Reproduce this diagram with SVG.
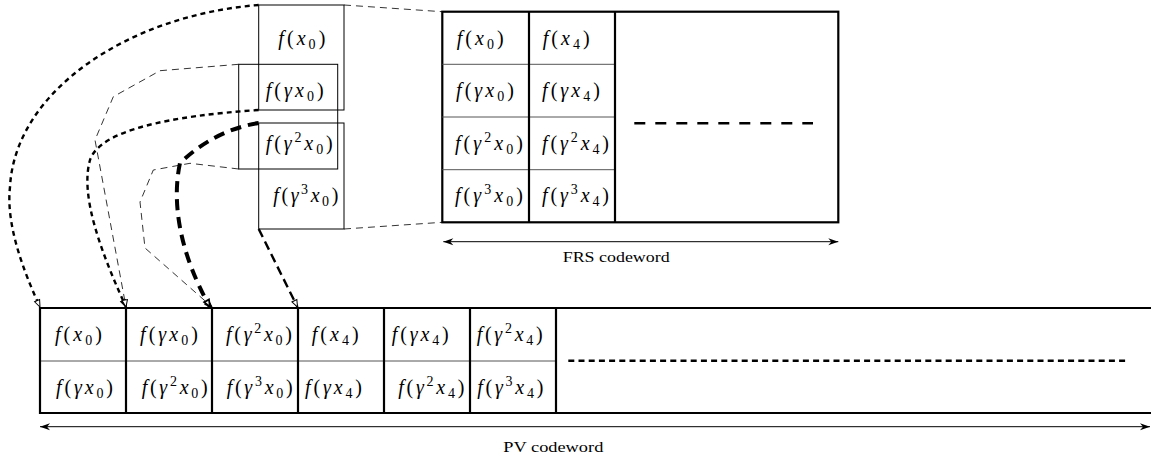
<svg xmlns="http://www.w3.org/2000/svg" width="1151" height="456" viewBox="0 0 1151 456">
<style>
.m{font-family:"Liberation Serif","Times New Roman",serif;font-size:20px;fill:#000}
.i{font-style:italic}
.s{font-size:14px}
.lbl{font-family:"Liberation Serif","Times New Roman",serif;font-size:15px;fill:#000}
.thin{fill:none;stroke:#000;stroke-width:1}
.thick{fill:none;stroke:#000;stroke-width:2.2}
.inner{fill:none;stroke:#555;stroke-width:1}
.c-dot{fill:none;stroke:#000;stroke-width:2.4;stroke-dasharray:5 4}
.c-thin{fill:none;stroke:#000;stroke-width:0.8;stroke-dasharray:7 5}
.c-heavy{fill:none;stroke:#000;stroke-width:4;stroke-dasharray:11 7}
.c-long{fill:none;stroke:#000;stroke-width:2.4;stroke-dasharray:9 5}
</style>
<defs>
<marker id="hollow" markerUnits="userSpaceOnUse" markerWidth="10" markerHeight="8" refX="7" refY="2.75" orient="auto" overflow="visible">
<path d="M0,0 L7,2.75 L0,5.5 z" fill="#fff" stroke="#000" stroke-width="1"/>
</marker>
<marker id="hollowHeavy" markerUnits="userSpaceOnUse" markerWidth="10" markerHeight="8" refX="7" refY="2.75" orient="auto" overflow="visible">
<path d="M0,0 L7,2.75 L0,5.5 z" fill="#fff" stroke="#000" stroke-width="1.8"/>
</marker>
<marker id="solid" markerUnits="userSpaceOnUse" markerWidth="10" markerHeight="8" refX="7" refY="2.75" orient="auto" overflow="visible">
<path d="M0,0 L7,2.75 L0,5.5 z" fill="#000" stroke="#000" stroke-width="1"/>
</marker>
<marker id="stealth" markerUnits="userSpaceOnUse" markerWidth="12" markerHeight="8" refX="10" refY="3.5" orient="auto-start-reverse" overflow="visible">
<path d="M0,0 L10,3.5 L0,7 L3,3.5 z" fill="#000"/>
</marker>
</defs>

<!-- stacked source boxes -->
<g id="stack-a">
<rect class="thin" x="258.7" y="5" width="85.3" height="105"/>
<text class="m" x="278.3" y="44.7" textLength="47" lengthAdjust="spacing"><tspan class="i">f</tspan>(<tspan class="i">x</tspan><tspan class="s" dy="4">0</tspan><tspan dy="-4">)</tspan></text>
</g>
<g id="stack-b">
<rect class="thin" x="238.7" y="64.3" width="99" height="104.7"/>
<text class="m" x="265.7" y="96.5" textLength="58" lengthAdjust="spacing"><tspan class="i">f</tspan>(<tspan class="i">γx</tspan><tspan class="s" dy="4">0</tspan><tspan dy="-4">)</tspan></text>
</g>
<g id="stack-c">
<rect class="thin" x="258.7" y="123" width="85.3" height="106"/>
<text class="m" x="265.7" y="149.7" textLength="67" lengthAdjust="spacing"><tspan class="i">f</tspan>(<tspan class="i">γ</tspan><tspan class="s" dy="-8">2</tspan><tspan class="i" dy="8">x</tspan><tspan class="s" dy="4">0</tspan><tspan dy="-4">)</tspan></text>
<text class="m" x="273.3" y="201.5" textLength="65" lengthAdjust="spacing"><tspan class="i">f</tspan>(<tspan class="i">γ</tspan><tspan class="s" dy="-8">3</tspan><tspan class="i" dy="8">x</tspan><tspan class="s" dy="4">0</tspan><tspan dy="-4">)</tspan></text>
</g>

<!-- FRS codeword -->
<g id="frs">
<rect class="thick" x="442.3" y="11.7" width="396" height="210.6"/>
<line class="inner" x1="442.3" y1="64.3" x2="615" y2="64.3"/>
<line class="inner" x1="442.3" y1="117" x2="615" y2="117"/>
<line class="inner" x1="442.3" y1="169.7" x2="615" y2="169.7"/>
<line class="thick" x1="529" y1="11.7" x2="529" y2="222.3"/>
<line class="thick" x1="615" y1="11.7" x2="615" y2="222.3"/>
<line x1="634.3" y1="123.3" x2="813" y2="123.3" stroke="#000" stroke-width="2.6" stroke-dasharray="11 10"/>
<text class="m" x="456.7" y="44.7" textLength="47" lengthAdjust="spacing"><tspan class="i">f</tspan>(<tspan class="i">x</tspan><tspan class="s" dy="4">0</tspan><tspan dy="-4">)</tspan></text>
<text class="m" x="456" y="96.5" textLength="58" lengthAdjust="spacing"><tspan class="i">f</tspan>(<tspan class="i">γx</tspan><tspan class="s" dy="4">0</tspan><tspan dy="-4">)</tspan></text>
<text class="m" x="455" y="149.7" textLength="68" lengthAdjust="spacing"><tspan class="i">f</tspan>(<tspan class="i">γ</tspan><tspan class="s" dy="-8">2</tspan><tspan class="i" dy="8">x</tspan><tspan class="s" dy="4">0</tspan><tspan dy="-4">)</tspan></text>
<text class="m" x="455" y="201.5" textLength="68" lengthAdjust="spacing"><tspan class="i">f</tspan>(<tspan class="i">γ</tspan><tspan class="s" dy="-8">3</tspan><tspan class="i" dy="8">x</tspan><tspan class="s" dy="4">0</tspan><tspan dy="-4">)</tspan></text>
<text class="m" x="542.7" y="44.7" textLength="47" lengthAdjust="spacing"><tspan class="i">f</tspan>(<tspan class="i">x</tspan><tspan class="s" dy="4">4</tspan><tspan dy="-4">)</tspan></text>
<text class="m" x="542" y="96.5" textLength="58" lengthAdjust="spacing"><tspan class="i">f</tspan>(<tspan class="i">γx</tspan><tspan class="s" dy="4">4</tspan><tspan dy="-4">)</tspan></text>
<text class="m" x="542" y="149.7" textLength="67" lengthAdjust="spacing"><tspan class="i">f</tspan>(<tspan class="i">γ</tspan><tspan class="s" dy="-8">2</tspan><tspan class="i" dy="8">x</tspan><tspan class="s" dy="4">4</tspan><tspan dy="-4">)</tspan></text>
<text class="m" x="542" y="201.5" textLength="67" lengthAdjust="spacing"><tspan class="i">f</tspan>(<tspan class="i">γ</tspan><tspan class="s" dy="-8">3</tspan><tspan class="i" dy="8">x</tspan><tspan class="s" dy="4">4</tspan><tspan dy="-4">)</tspan></text>
</g>
<g id="frs-label">
<line x1="443.3" y1="241.7" x2="838.3" y2="241.7" stroke="#000" stroke-width="1" marker-start="url(#stealth)" marker-end="url(#stealth)"/>
<text class="lbl" x="562.7" y="261.7" textLength="107" lengthAdjust="spacingAndGlyphs">FRS codeword</text>
</g>

<!-- PV codeword -->
<g id="pv">
<line class="thick" x1="40" y1="308" x2="1151" y2="308"/>
<line class="thick" x1="40" y1="413" x2="1151" y2="413"/>
<line class="inner" x1="40" y1="361" x2="556" y2="361"/>
<line class="thick" x1="40" y1="307" x2="40" y2="414"/>
<line class="thick" x1="126" y1="308" x2="126" y2="413"/>
<line class="thick" x1="212" y1="308" x2="212" y2="413"/>
<line class="thick" x1="298" y1="308" x2="298" y2="413"/>
<line class="thick" x1="384" y1="308" x2="384" y2="413"/>
<line class="thick" x1="470" y1="308" x2="470" y2="413"/>
<line class="thick" x1="556" y1="308" x2="556" y2="413"/>
<line x1="568.3" y1="360.7" x2="1128" y2="360.7" stroke="#000" stroke-width="2.5" stroke-dasharray="6 4.2"/>
<text class="m" x="55" y="341.2" textLength="47" lengthAdjust="spacing"><tspan class="i">f</tspan>(<tspan class="i">x</tspan><tspan class="s" dy="4">0</tspan><tspan dy="-4">)</tspan></text>
<text class="m" x="140" y="341.2" textLength="58" lengthAdjust="spacing"><tspan class="i">f</tspan>(<tspan class="i">γx</tspan><tspan class="s" dy="4">0</tspan><tspan dy="-4">)</tspan></text>
<text class="m" x="226" y="341.2" textLength="66" lengthAdjust="spacing"><tspan class="i">f</tspan>(<tspan class="i">γ</tspan><tspan class="s" dy="-8">2</tspan><tspan class="i" dy="8">x</tspan><tspan class="s" dy="4">0</tspan><tspan dy="-4">)</tspan></text>
<text class="m" x="311.7" y="341.2" textLength="47" lengthAdjust="spacing"><tspan class="i">f</tspan>(<tspan class="i">x</tspan><tspan class="s" dy="4">4</tspan><tspan dy="-4">)</tspan></text>
<text class="m" x="391.7" y="341.2" textLength="57" lengthAdjust="spacing"><tspan class="i">f</tspan>(<tspan class="i">γx</tspan><tspan class="s" dy="4">4</tspan><tspan dy="-4">)</tspan></text>
<text class="m" x="476.7" y="341.2" textLength="66" lengthAdjust="spacing"><tspan class="i">f</tspan>(<tspan class="i">γ</tspan><tspan class="s" dy="-8">2</tspan><tspan class="i" dy="8">x</tspan><tspan class="s" dy="4">4</tspan><tspan dy="-4">)</tspan></text>
<text class="m" x="56" y="393.7" textLength="57" lengthAdjust="spacing"><tspan class="i">f</tspan>(<tspan class="i">γx</tspan><tspan class="s" dy="4">0</tspan><tspan dy="-4">)</tspan></text>
<text class="m" x="141.7" y="393.7" textLength="66" lengthAdjust="spacing"><tspan class="i">f</tspan>(<tspan class="i">γ</tspan><tspan class="s" dy="-8">2</tspan><tspan class="i" dy="8">x</tspan><tspan class="s" dy="4">0</tspan><tspan dy="-4">)</tspan></text>
<text class="m" x="226.7" y="393.7" textLength="66" lengthAdjust="spacing"><tspan class="i">f</tspan>(<tspan class="i">γ</tspan><tspan class="s" dy="-8">3</tspan><tspan class="i" dy="8">x</tspan><tspan class="s" dy="4">0</tspan><tspan dy="-4">)</tspan></text>
<text class="m" x="305" y="393.7" textLength="57" lengthAdjust="spacing"><tspan class="i">f</tspan>(<tspan class="i">γx</tspan><tspan class="s" dy="4">4</tspan><tspan dy="-4">)</tspan></text>
<text class="m" x="398.3" y="393.7" textLength="66" lengthAdjust="spacing"><tspan class="i">f</tspan>(<tspan class="i">γ</tspan><tspan class="s" dy="-8">2</tspan><tspan class="i" dy="8">x</tspan><tspan class="s" dy="4">4</tspan><tspan dy="-4">)</tspan></text>
<text class="m" x="477.3" y="393.7" textLength="66" lengthAdjust="spacing"><tspan class="i">f</tspan>(<tspan class="i">γ</tspan><tspan class="s" dy="-8">3</tspan><tspan class="i" dy="8">x</tspan><tspan class="s" dy="4">4</tspan><tspan dy="-4">)</tspan></text>
</g>
<g id="pv-label">
<line x1="40" y1="426.7" x2="1150" y2="426.7" stroke="#000" stroke-width="1" marker-start="url(#stealth)" marker-end="url(#stealth)"/>
<text class="lbl" x="503.3" y="451.7" textLength="100" lengthAdjust="spacingAndGlyphs">PV codeword</text>
</g>

<!-- connectors -->
<g id="connectors">
<line class="c-thin" x1="344" y1="5" x2="442.3" y2="11.7"/>
<line class="c-thin" x1="344" y1="229" x2="442.3" y2="222.3"/>
<path class="c-dot" d="M258.7,5 C130,15 15,90 10,187 C5,230 30,285 40,307" marker-end="url(#hollow)"/>
<path class="c-dot" d="M258.7,110 C170,116 100,130 90,160 C80,195 100,250 126,307" marker-end="url(#solid)"/>
<path class="c-thin" d="M238.7,64.3 L160,70.7 L113.3,96.7 L95,140 L126,307" marker-end="url(#hollow)"/>
<path class="c-thin" d="M238.7,169 L190,163.3 L153.3,170 L140,202 L145,248 L212,307" marker-end="url(#hollow)"/>
<path class="c-heavy" d="M258.7,123 Q215,130 180,163 C172,200 178,250 210,307" marker-end="url(#hollowHeavy)"/>
<path class="c-long" d="M258.7,229 L297.5,307" marker-end="url(#hollow)"/>
</g>
</svg>
